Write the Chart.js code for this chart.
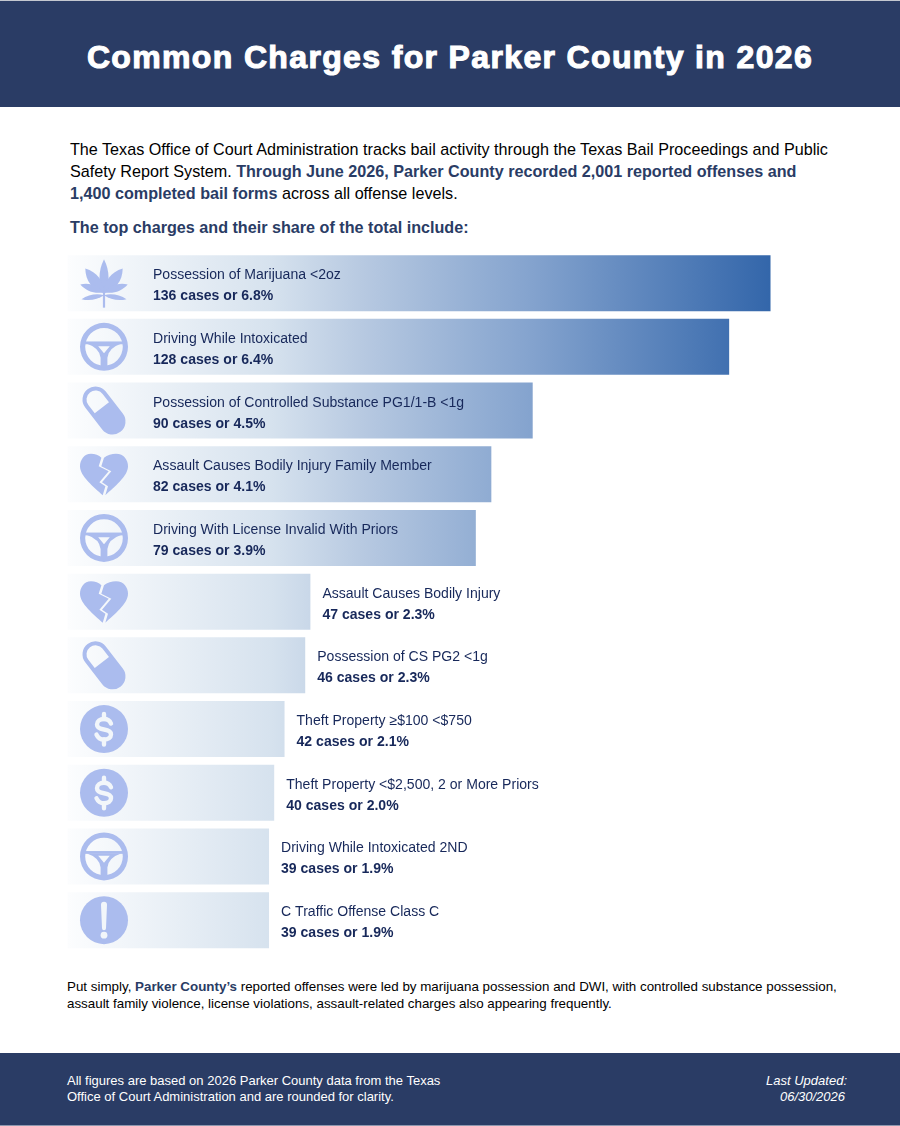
<!DOCTYPE html>
<html>
<head>
<meta charset="utf-8">
<script src="https://cdn.jsdelivr.net/npm/chart.js@4"></script>
<style>
html,body{margin:0;padding:0;background:#fff;}
body{width:900px;height:1126px;position:relative;overflow:hidden;font-family:"Liberation Sans",Arial,sans-serif;color:#000;}
.abs{position:absolute;}
#head{left:0;top:0;width:900px;height:107px;background:#2a3c65;border-top:1px solid #c4c8d0;box-sizing:border-box;}
#title{left:0;top:37px;width:900px;text-align:center;font-size:32px;line-height:40px;font-weight:bold;color:#fff;letter-spacing:1.35px;-webkit-text-stroke:1.1px #fff;white-space:nowrap;}
#intro{left:70px;top:138px;width:790px;font-size:16.17px;line-height:22px;white-space:nowrap;}
b.hi{color:#2a3c65;font-weight:bold;}
#sub{left:70px;top:217px;font-size:16.17px;line-height:21px;font-weight:bold;color:#2a3c65;white-space:nowrap;}
#chartWrap{left:0;top:251px;width:900px;height:701px;}
#outro{left:67px;top:978px;font-size:13.36px;line-height:17px;white-space:nowrap;}
#foot{left:0;top:1053px;width:900px;height:73px;background:#2a3c65;border-bottom:1px solid #8d97ae;box-sizing:border-box;}
#footL{left:67px;top:1073px;font-size:13px;line-height:16px;color:#fff;white-space:nowrap;}
#footR{right:53px;top:1073px;font-size:13px;line-height:16px;color:#fff;font-style:italic;text-align:right;white-space:nowrap;}
#footR span{padding-right:2px;}
</style>
</head>
<body>
<div class="abs" id="head"></div>
<div class="abs" id="title">Common Charges for Parker County in 2026</div>
<div class="abs" id="intro">The Texas Office of Court Administration tracks bail activity through the Texas Bail Proceedings and Public<br>Safety Report System. <b class="hi">Through June 2026, Parker County recorded 2,001 reported offenses and<br>1,400 completed bail forms</b> across all offense levels.</div>
<div class="abs" id="sub">The top charges and their share of the total include:</div>
<div class="abs" id="chartWrap"><canvas id="c" width="900" height="701"></canvas></div>
<div class="abs" id="outro">Put simply, <b class="hi">Parker County’s</b> reported offenses were led by marijuana possession and DWI, with controlled substance possession,<br>assault family violence, license violations, assault-related charges also appearing frequently.</div>
<div class="abs" id="foot"></div>
<div class="abs" id="footL">All figures are based on 2026 Parker County data from the Texas<br>Office of Court Administration and are rounded for clarity.</div>
<div class="abs" id="footR">Last Updated:<br><span>06/30/2026</span></div>
<script>
const charges = ["Possession of Marijuana <2oz","Driving While Intoxicated","Possession of Controlled Substance PG1/1-B <1g","Assault Causes Bodily Injury Family Member","Driving With License Invalid With Priors","Assault Causes Bodily Injury","Possession of CS PG2 <1g","Theft Property \u2265$100 <$750","Theft Property <$2,500, 2 or More Priors","Driving While Intoxicated 2ND","C Traffic Offense Class C"];
const cases = [136,128,90,82,79,47,46,42,40,39,39];
const shares = ["6.8","6.4","4.5","4.1","3.9","2.3","2.3","2.1","2.0","1.9","1.9"];
const icons = ["leaf","wheel","pill","heart","wheel","heart","pill","dollar","dollar","wheel","alert"];

const ICON = "#abbcee", CUT = "#f2f6fa", TEXT = "#17285a";

function circle(p,r){p.moveTo(r,0);p.arc(0,0,r,0,Math.PI*2);}
const draw = {
  leaf(c){
    c.fillStyle=ICON;
    const tips=[[0,-24,6,12],[18.7,-14.7,7.3,10],[-18.7,-14.7,7.3,10],[23.7,1.3,4.7,9],[-23.7,1.3,4.7,9],[22.5,16,3.3,12],[-22.5,16,3.3,12]];
    tips.forEach(t=>{
      const bx=0,by=t[3],dx=t[0]-bx,dy=t[1]-by,l=Math.hypot(dx,dy),nx=-dy/l,ny=dx/l,w=t[2];
      const ax=bx+dx*.3,ay=by+dy*.3,ex=bx+dx*.68,ey=by+dy*.68;
      c.beginPath();c.moveTo(bx,by);
      c.bezierCurveTo(ax+nx*w,ay+ny*w,ex+nx*w,ey+ny*w,t[0],t[1]);
      c.bezierCurveTo(ex-nx*w,ey-ny*w,ax-nx*w,ay-ny*w,bx,by);
      c.fill();
    });
    c.fillRect(-1.1,9,2.2,15.5);
  },
  wheel(c){
    c.fillStyle=ICON;
    const ring=new Path2D();circle(ring,24);ring.moveTo(18.8,0);ring.arc(0,0,18.8,0,Math.PI*2);
    c.fill(ring,"evenodd");
    c.fillRect(-20,-5.4,40,2.8);
    c.beginPath();
    c.moveTo(-17,-3);c.lineTo(17,-3);
    c.quadraticCurveTo(4.5,1,3.4,11);c.lineTo(3.4,21);c.lineTo(-3.4,21);c.lineTo(-3.4,11);
    c.quadraticCurveTo(-4.5,1,-17,-3);
    c.moveTo(-5.8,-.6);c.lineTo(5.8,-.6);c.lineTo(0,6.4);c.closePath();
    c.fill("evenodd");
  },
  pill(c){
    c.rotate(-37.7*Math.PI/180);
    c.fillStyle=ICON;
    const r=13,h=13.9,ir=9,p=new Path2D();
    p.arc(0,-h,r,Math.PI,0);p.arc(0,h,r,0,Math.PI);p.closePath();
    p.moveTo(-ir,-h);p.arc(0,-h,ir,Math.PI,0);p.lineTo(ir,-3.5);p.lineTo(-ir,-3.5);p.closePath();
    c.fill(p,"evenodd");
  },
  heart(c){
    c.fillStyle=ICON;
    c.beginPath();c.moveTo(-2.6,-16.5);
    c.bezierCurveTo(-5,-19,-9,-20.5,-13,-20.5);c.bezierCurveTo(-20,-20.5,-24,-14,-24,-8);
    c.bezierCurveTo(-24,2,-10,13,-1.3,21);
    c.lineTo(1.4,12);c.lineTo(-4.6,8);c.lineTo(4.7,-3);c.lineTo(-5.3,-8);c.closePath();c.fill();
    c.beginPath();c.moveTo(0,-16.5);
    c.bezierCurveTo(3,-19,8,-20.5,12,-20.5);c.bezierCurveTo(20,-20.5,24,-14,24,-8);
    c.bezierCurveTo(24,2,10,13,1.3,21);
    c.lineTo(4,12);c.lineTo(-2,8);c.lineTo(7.3,-3);c.lineTo(-2.7,-8);c.closePath();c.fill();
  },
  dollar(c){
    c.fillStyle=ICON;
    c.beginPath();circle(c,24);c.fill();
    c.strokeStyle=CUT;c.lineWidth=4.4;c.lineCap="round";
    c.beginPath();c.moveTo(7,-5.5);c.bezierCurveTo(5.5,-9,2.5,-10,0,-10);c.bezierCurveTo(-4,-10,-7,-8,-7,-4.5);
    c.bezierCurveTo(-7,-1,-3.5,0,0,.5);c.bezierCurveTo(3.5,1,7,2.5,7,5.5);c.bezierCurveTo(7,8.5,4,10.5,0,10.5);
    c.bezierCurveTo(-3,10.5,-6,9,-7.5,5.5);c.stroke();
    c.beginPath();c.moveTo(0,-15);c.lineTo(0,-10);c.moveTo(0,10.5);c.lineTo(0,15.5);c.stroke();
  },
  alert(c){
    c.fillStyle=ICON;
    c.beginPath();circle(c,24);c.fill();
    c.fillStyle=CUT;
    c.beginPath();c.moveTo(-3,-15.5);c.arc(0,-15.5,3,Math.PI,0);c.lineTo(2,8);c.arc(0,8,2,0,Math.PI);c.closePath();c.fill();
    c.beginPath();c.arc(0,15,3.4,0,Math.PI*2);c.fill();
  }
};

const rowDecor = {
  id:"rowDecor",
  afterDatasetsDraw(chart){
    const c=chart.ctx, meta=chart.getDatasetMeta(0), left=chart.scales.x.getPixelForValue(0);
    c.save();
    meta.data.forEach((bar,i)=>{
      const y=bar.y;
      c.save();c.translate(left+36.6,y);draw[icons[i]](c);c.restore();
      const bold="bold 14.05px 'Liberation Sans', Arial, sans-serif", reg="14.05px 'Liberation Sans', Arial, sans-serif";
      c.font=reg;
      const w=c.measureText(charges[i]).width;
      const x=(w+85<bar.x-left)?left+85.6:bar.x+12;
      c.fillStyle=TEXT;c.textAlign="left";c.textBaseline="alphabetic";
      c.fillText(charges[i],x,y-4);
      c.font=bold;
      c.fillText(cases[i]+" cases or "+shares[i]+"%",x,y+17);
    });
    c.restore();
  }
};

function barFill(ctx){
  const ch=ctx.chart, sx=ch.scales.x;
  const x0=sx?sx.getPixelForValue(0):NaN, x1=sx?sx.getPixelForValue(cases[0]):NaN;
  if(!isFinite(x0)||!isFinite(x1)) return "#bccde3";
  const g=ch.ctx.createLinearGradient(x0,0,x1,0);
  g.addColorStop(0,"#fcfdfe");
  g.addColorStop(.29,"#d6e2ee");
  g.addColorStop(.42,"#b7c9e1");
  g.addColorStop(.58,"#94afd4");
  g.addColorStop(.66,"#84a3ce");
  g.addColorStop(1,"#3366aa");
  return g;
}

new Chart(document.getElementById("c"),{
  type:"bar",
  data:{labels:charges,datasets:[{data:cases,backgroundColor:barFill,borderWidth:0,categoryPercentage:1,barPercentage:.879}]},
  options:{
    indexAxis:"y",responsive:false,animation:false,
    layout:{padding:{left:67.4,right:5.4,top:.3,bottom:0}},
    plugins:{legend:{display:false},tooltip:{enabled:false},title:{display:false}},
    scales:{
      x:{display:false,min:0,max:160},
      y:{display:false}
    }
  },
  plugins:[rowDecor]
});
</script>
</body>
</html>
